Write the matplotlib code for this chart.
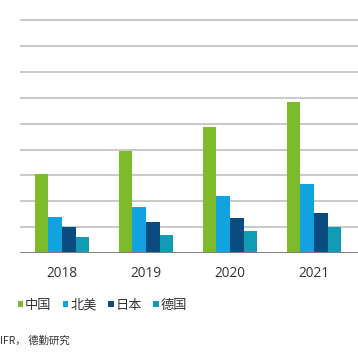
import matplotlib.pyplot as plt
import numpy as np

plt.rcParams['font.family'] = ['Open Sans', 'Noto Sans CJK SC', 'DejaVu Sans']

# Daten
years = ['2018', '2019', '2020', '2021']
regions = ['中国', '北美', '日本', '德国']
china = [3.05, 3.93, 4.87, 5.83]
north_america = [1.38, 1.77, 2.20, 2.67]
japan = [1.01, 1.19, 1.34, 1.54]
germany = [0.61, 0.67, 0.84, 1.01]
colors = ['#7DBB2A', '#10A3DF', '#0A4B80', '#119CB6']

series = [china, north_america, japan, germany]

fig = plt.figure(figsize=(3.58, 3.58), dpi=100)
ax = fig.add_axes([0.056, 0.294, 0.95, 0.656])

x = np.arange(len(years))
w = 0.162
for i, (vals, name) in enumerate(zip(series, regions)):
    ax.bar(x + (i - 1.5) * w, vals, w, color=colors[i], label=name, zorder=3)

ax.set_ylim(0, 9.1)
ax.set_xlim(-0.5, 3.55)
ax.set_yticks(np.arange(1, 10))
ax.yaxis.grid(True, color='#C4C4C4', linewidth=1.3, zorder=0)
ax.axhline(0, color='#808080', linewidth=1.4, zorder=4)
ax.tick_params(axis='y', left=False, labelleft=False)
ax.tick_params(axis='x', bottom=False, pad=6)
ax.set_xticks(x)
ax.set_xticklabels(years, fontsize=9.8, color='#333333')
for s in ax.spines.values():
    s.set_visible(False)

# Legende unter der Achse, links ausgerichtet
leg = ax.legend(loc='center left', bbox_to_anchor=(0.049, 1 - 305 / 358), bbox_transform=fig.transFigure,
                ncol=4, frameon=False, handlelength=0.42, handleheight=0.38,
                handletextpad=0.15, columnspacing=0.85, borderaxespad=0, borderpad=0,
                prop={'family': ['Noto Sans CJK SC'], 'size': 9.5})
for t in leg.get_texts():
    t.set_color('#333333')

fig.text(0.0, 1 - 341 / 358, 'IFR， 德勤研究', fontsize=7.5, color='#333333',
         va='center', ha='left', family=['Noto Sans CJK SC', 'DejaVu Sans'])

fig.savefig('out.png', dpi=100)
